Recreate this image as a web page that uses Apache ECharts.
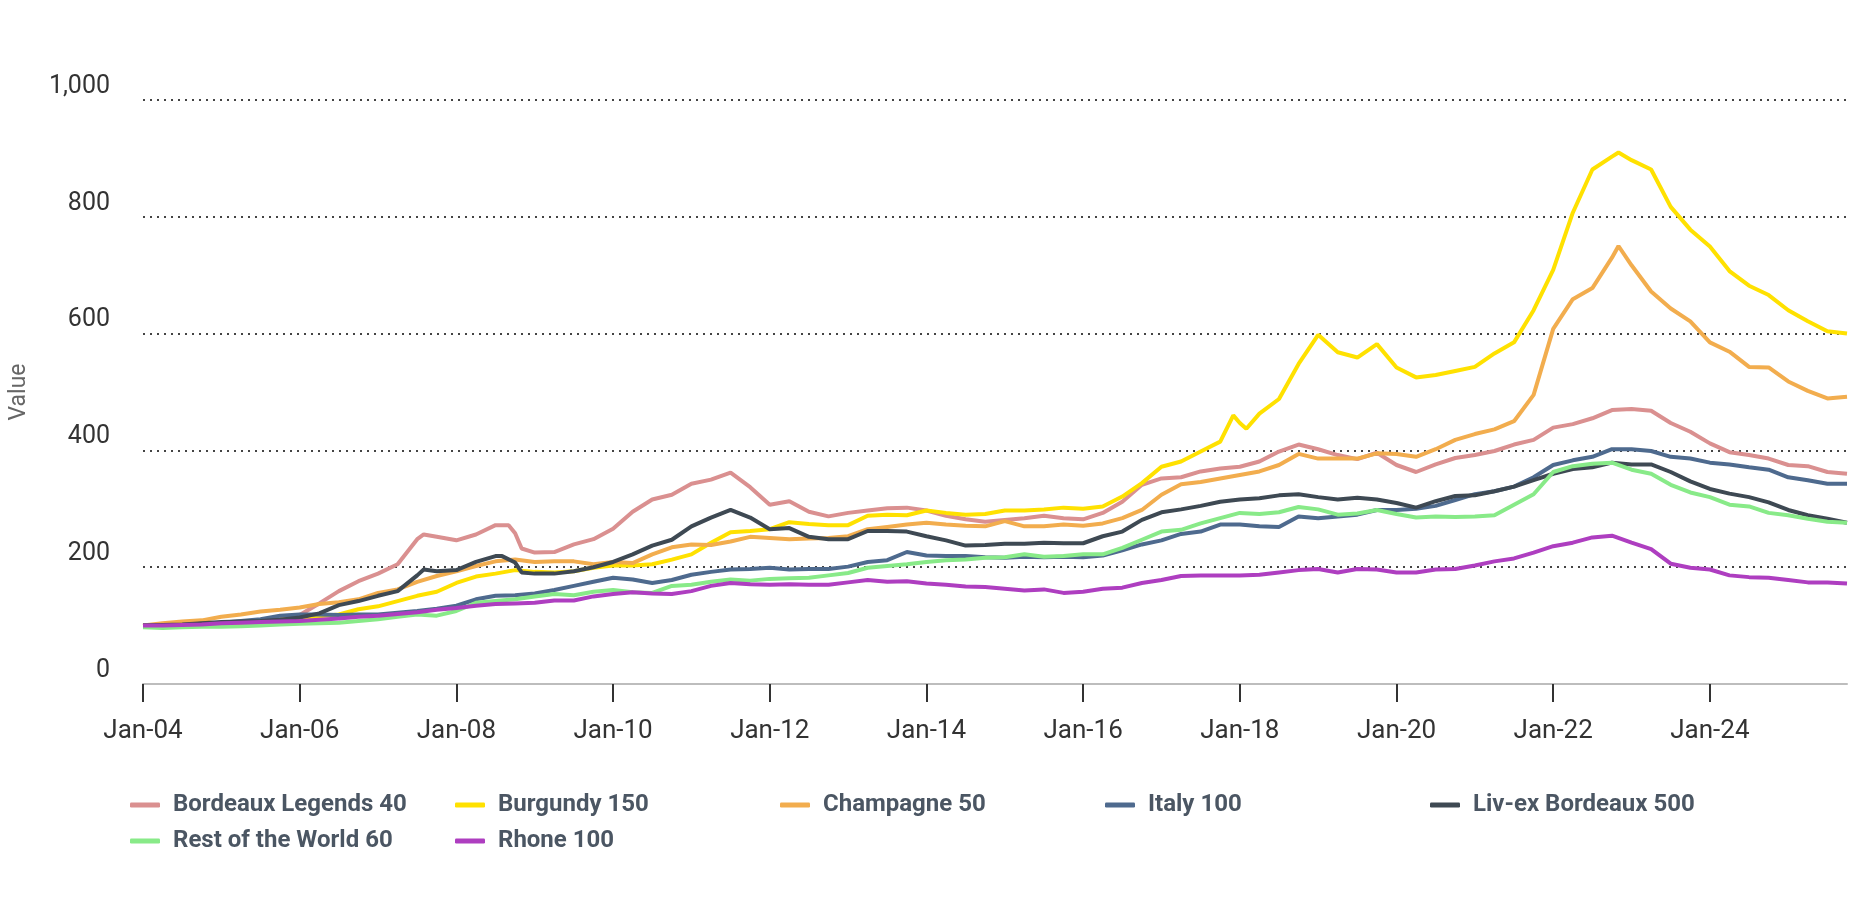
<!DOCTYPE html>
<html><head><meta charset="utf-8">
<script src="https://cdn.jsdelivr.net/npm/echarts@6/dist/echarts.min.js"></script>
<style>html,body{margin:0;padding:0;background:#fff}#c{width:1868px;height:900px}</style>
</head><body><div id="c"></div>
<script>
const dates = [
'2004-01','2004-04','2004-07','2004-10','2005-01','2005-04','2005-07','2005-10',
'2006-01','2006-04','2006-07','2006-10','2007-01','2007-04','2007-07','2007-10',
'2008-01','2008-04','2008-07','2008-10','2009-01','2009-04','2009-07','2009-10',
'2010-01','2010-04','2010-07','2010-10','2011-01','2011-04','2011-07','2011-10',
'2012-01','2012-04','2012-07','2012-10','2013-01','2013-04','2013-07','2013-10',
'2014-01','2014-04','2014-07','2014-10','2015-01','2015-04','2015-07','2015-10',
'2016-01','2016-04','2016-07','2016-10','2017-01','2017-04','2017-07','2017-10',
'2018-01','2018-04','2018-07','2018-10','2019-01','2019-04','2019-07','2019-10',
'2020-01','2020-04','2020-07','2020-10','2021-01','2021-04','2021-07','2021-10',
'2022-01','2022-04','2022-07','2022-10','2023-01','2023-04','2023-07','2023-10',
'2024-01','2024-04','2024-07','2024-10','2025-01','2025-04','2025-07','2025-10'
];
const tickLabels = ['Jan-04','Jan-06','Jan-08','Jan-10','Jan-12','Jan-14','Jan-16','Jan-18','Jan-20','Jan-22','Jan-24'];
const yTicks = [0,200,400,600,800,1000];

const bordeauxLegends40 = [100,101,102,103,104,106,108,111,118,138,159,176,189,205,248,252,246,
256,272,258,225,226,239,248,266,295,316,324,343,350,362,337,307,
313,295,287,293,297,301,302,297,288,282,278,281,284,288,284,282,
293,312,341,352,354,364,369,372,381,398,410,402,392,385,396,375,
363,376,387,392,399,410,418,439,445,455,469,471,468,447,432,412,
397,392,386,375,373,363,360];
const burgundy150 = [100,101,101,102,103,105,107,110,113,116,119,128,133,142,151,158,173,
184,189,195,192,191,193,199,203,203,205,213,222,242,260,262,265,
277,274,272,272,288,290,289,297,293,290,291,297,297,299,302,300,
304,321,344,372,381,398,415,447,463,488,548,598,568,559,582,542,
525,529,536,543,566,585,640,709,807,881,903,897,881,817,778,749,
707,682,666,640,621,604,600];
const champagne50 = [100,104,107,109,115,119,124,127,131,137,140,145,156,162,175,185,193,
202,210,213,209,210,210,205,209,207,222,234,239,238,244,252,250,
248,249,250,253,265,269,273,276,273,271,270,279,270,270,273,271,
275,284,298,324,342,346,352,358,364,375,394,386,386,386,395,394,
389,402,418,428,436,450,495,608,659,678,730,717,672,643,621,585,
569,543,542,518,502,489,492];
const italy100 = [100,100,101,103,105,108,111,117,119,119,118,119,119,122,125,129,134,
145,151,152,155,161,168,175,182,179,173,178,187,192,196,197,199,
196,197,197,201,209,212,226,220,219,219,217,216,218,217,218,217,
220,229,239,246,257,261,273,273,270,269,287,284,287,290,298,298,
300,305,315,325,330,338,354,375,383,389,402,402,399,389,386,379,
376,371,367,354,349,343,343];
const livexBordeaux500 = [100,101,102,104,106,107,108,110,114,121,135,142,151,159,186,193,195,
209,219,208,189,189,193,200,209,222,237,247,270,285,298,285,265,
267,252,248,248,262,262,261,253,246,237,238,240,240,242,241,241,
253,261,281,294,299,305,312,316,318,323,325,320,316,319,316,310,
302,313,322,323,330,338,349,360,368,371,379,376,376,363,347,334,
326,320,311,298,289,283,276];
const restOfWorld60 = [97,96,97,98,98,99,100,102,103,104,105,108,111,115,119,117,125,
139,142,145,150,154,152,158,161,157,156,168,170,175,179,177,180,
181,182,186,190,199,202,205,209,212,213,216,217,222,218,219,222,
222,233,247,261,264,275,284,293,291,294,303,299,290,292,298,291,
285,287,286,287,289,307,325,363,373,377,379,367,360,341,328,320,
307,304,293,289,283,278,276];
const rhone100 = [100,100,101,102,104,105,106,107,108,110,112,115,117,120,123,127,130,
134,137,138,139,143,143,150,154,157,155,154,159,168,173,171,170,
171,170,170,174,178,175,176,172,170,167,166,163,160,162,156,158,
163,165,173,178,185,186,186,186,187,191,195,197,191,197,196,191,
191,196,197,203,210,215,225,236,242,251,254,242,231,206,199,196,
186,183,182,178,174,174,172];

// extra readings between the quarterly points (peaks / dips)
const bordeauxLegends40Extra = [['2007-08',256],['2008-09',272],['2008-11',232]];
const burgundy150Extra = [['2017-12',460],['2018-02',437],['2022-11',910]];
const champagne50Extra = [['2022-11',750]];
const livexBordeaux500Extra = [['2007-08',196],['2008-08',219],['2008-11',191]];

const seriesNames = ['Bordeaux Legends 40','Burgundy 150','Champagne 50','Italy 100','Liv-ex Bordeaux 500','Rest of the World 60','Rhone 100'];
const seriesValues = [bordeauxLegends40, burgundy150, champagne50, italy100, livexBordeaux500, restOfWorld60, rhone100];
const seriesExtras = [bordeauxLegends40Extra, burgundy150Extra, champagne50Extra, [], livexBordeaux500Extra, [], []];
const colors = ['#da9090','#ffe100','#f2ad4e','#4e6a8e','#3e4953','#88ea88','#ae3ec0'];

const MONTHS = ['Jan','Feb','Mar','Apr','May','Jun','Jul','Aug','Sep','Oct','Nov','Dec'];
const BASE_YEAR = 2004;
function dateToIndex(s){ const p = s.split('-'); return (+p[0] - BASE_YEAR) * 12 + (+p[1] - 1); }
function labelToIndex(l){ const p = l.split('-'); return (2000 + +p[1] - BASE_YEAR) * 12 + MONTHS.indexOf(p[0]); }
const tickPos = tickLabels.map(labelToIndex);
const xs = dates.map(dateToIndex);

function buildPoints(i){
  const pts = xs.map(function(x, j){ return [x, seriesValues[i][j]]; });
  seriesExtras[i].forEach(function(e){ pts.push([dateToIndex(e[0]), e[1]]); });
  pts.sort(function(a, b){ return a[0] - b[0]; });
  return pts;
}

const FONT = 'Roboto';
const chart = echarts.init(document.getElementById('c'), null, {renderer:'canvas'});
chart.setOption({
  animation: false,
  backgroundColor: '#fff',
  grid: {left: 140, right: 21, top: 100, bottom: 216},
  legend: {
    data: seriesNames,
    left: 125, top: 782, width: 1640,
    icon: 'roundRect', itemWidth: 30, itemHeight: 5, itemGap: 0,
    textStyle: {fontFamily: FONT, fontSize: 24, fontWeight: 'bold', color: '#4b5663', width: 282, lineHeight: 36, padding: [0,0,0,8], overflow: 'truncate'}
  },
  xAxis: {
    type: 'value',
    min: xs[0], max: xs[xs.length-1],
    axisLine: {show: true, lineStyle: {color: '#bdbdbd', width: 2}},
    axisTick: {show: true, length: 18, lineStyle: {color: '#333', width: 2}, customValues: tickPos},
    axisLabel: {
      customValues: tickPos, margin: 34,
      fontFamily: FONT, fontSize: 26, color: '#333',
      formatter: function(v){ const i = tickPos.indexOf(v); return i >= 0 ? tickLabels[i] : ''; }
    },
    splitLine: {show: false}
  },
  yAxis: {
    type: 'value', min: yTicks[0], max: yTicks[yTicks.length-1], interval: 200,
    name: 'Value', nameLocation: 'middle', nameGap: 112, nameRotate: 90,
    nameTextStyle: {fontFamily: FONT, fontSize: 23, color: '#666'},
    axisLine: {show: false}, axisTick: {show: false},
    axisLabel: {fontFamily: FONT, fontSize: 25, color: '#333', margin: 33, verticalAlign: 'bottom', padding: [0,0,1,0]},
    splitLine: {show: true, lineStyle: {color: '#444', width: 2, type: [2, 5]}}
  },
  series: seriesNames.map(function(n, i){
    return {
      name: n, type: 'line', showSymbol: false, symbol: 'none',
      data: buildPoints(i),
      lineStyle: {width: 4, color: colors[i]}, itemStyle: {color: colors[i]},
      emphasis: {disabled: true}
    };
  })
});
</script></body></html>
